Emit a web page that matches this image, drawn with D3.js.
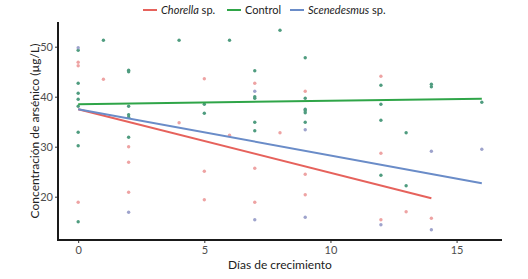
<!DOCTYPE html>
<html>
	<head>
		<meta charset="utf-8">
		<style>
			body, html { margin: 0; padding: 0; background: #fff; }
			text { font-family: Lato, "Liberation Sans", sans-serif; }
		</style>
	</head>
	<body>
		<svg id="svg" width="528" height="279"></svg>

		<script src="https://d3js.org/d3.v7.min.js"></script>
		<script>
			// Points: [day, arsenic µg/L]
			const chorella = [[0,46.9],[0,46.2],[0,18.9],[1,43.5],[2,30.0],[2,26.9],[2,20.9],[4,34.8],
				[5,43.6],[5,25.1],[5,19.4],[6,32.3],[7,42.7],[7,25.7],[7,18.9],[8,32.8],[9,41.1],
				[9,24.5],[9,20.4],[12,44.1],[12,28.7],[12,15.4],[13,17.0],[14,15.7]]
			const control = [[0,49.3],[0,42.7],[0,40.7],[0,39.5],[0,38.1],[0,32.9],[0,30.2],[0,15.0],
				[1,51.3],[2,45.3],[2,45.0],[2,38.1],[2,36.4],[2,35.9],[2,31.9],[4,51.3],[5,38.5],
				[5,36.7],[6,51.3],[7,45.2],[7,40.0],[7,39.7],[7,34.9],[7,33.2],[8,53.3],[9,47.8],
				[9,39.7],[9,37.5],[9,37.2],[9,36.8],[9,34.9],[12,42.3],[12,38.5],[12,35.3],[12,24.3],
				[13,32.8],[13,22.2],[14,42.5],[14,42.0],[16,38.9]]
			const scenedesmus = [[0,49.8],[2,16.9],[7,41.1],[7,15.4],[9,33.4],[9,15.9],[12,14.4],
				[14,29.1],[14,13.4],[16,29.5]]

			// fitted regression lines (start / end)
			const chorellaFit = [[0,37.5],[14,19.7]]
			const controlFit = [[0,38.5],[16,39.6]]
			const scenedesmusFit = [[0,37.5],[16,22.7]]

			const xTicks = [0, 5, 10, 15]
			const yTicks = [20, 30, 40, 50]

			const series = [
				{ name: 'Chorella', suffix: ' sp.', pts: chorella, fit: chorellaFit, line: '#e6625c', dot: '#eea3a3', italic: true },
				{ name: 'Control', suffix: '', pts: control, fit: controlFit, line: '#2fa548', dot: '#4f9c7f', italic: false },
				{ name: 'Scenedesmus', suffix: ' sp.', pts: scenedesmus, fit: scenedesmusFit, line: '#6a8cc8', dot: '#9ea3cc', italic: true }
			]

			const svg = d3.select('#svg')
			const pLeft = 58, pRight = 502, pTop = 22, pBottom = 240

			const x = d3.scaleLinear().domain([-0.8, 16.8]).range([pLeft, pRight])
			const y = d3.scaleLinear().domain([11.34, 54.94]).range([pBottom, pTop])

			// points first, lines on top
			series.forEach(s => {
				svg.append('g').selectAll('circle')
					.data(s.pts)
					.enter()
					.append('circle')
					.attr('cx', d => x(d[0]))
					.attr('cy', d => y(d[1]))
					.attr('r', 1.7)
					.attr('fill', s.dot)
			})

			const lineGen = d3.line().x(d => x(d[0])).y(d => y(d[1]))
			series.forEach(s => {
				svg.append('path')
					.attr('d', lineGen(s.fit))
					.attr('fill', 'none')
					.attr('stroke', s.line)
					.attr('stroke-width', 2)
			})

			// axes
			const xAxis = svg.append('g')
				.attr('transform', `translate(0,${pBottom})`)
				.call(d3.axisBottom(x).tickValues(xTicks).tickSize(3).tickPadding(3))
			const yAxis = svg.append('g')
				.attr('transform', `translate(${pLeft},0)`)
				.call(d3.axisLeft(y).tickValues(yTicks).tickSize(3).tickPadding(2))

			;[xAxis, yAxis].forEach(a => {
				a.select('.domain').remove()
				a.selectAll('line').attr('stroke', '#333')
				a.selectAll('text')
					.attr('fill', '#4d4d4d')
					.style('font-size', '11px')
					.style('font-family', 'Lato, sans-serif')
			})

			// thick axis lines
			svg.append('line').attr('x1', pLeft).attr('x2', pLeft).attr('y1', pTop).attr('y2', pBottom + 1)
				.attr('stroke', '#1a1a1a').attr('stroke-width', 2)
			svg.append('line').attr('x1', pLeft - 1).attr('x2', pRight).attr('y1', pBottom).attr('y2', pBottom)
				.attr('stroke', '#1a1a1a').attr('stroke-width', 2)

			// axis titles
			svg.append('text')
				.attr('x', (pLeft + pRight) / 2)
				.attr('y', 269)
				.attr('text-anchor', 'middle')
				.style('font-size', '12px')
				.attr('fill', '#222')
				.text('Días de crecimiento')

			svg.append('text')
				.attr('transform', `translate(39,${(pTop + pBottom) / 2}) rotate(-90)`)
				.attr('text-anchor', 'middle')
				.style('font-size', '12px')
				.attr('fill', '#222')
				.text('Concentración de arsénico (µg/L)')

			// legend
			const legendX = [143, 227, 290]
			const legend = svg.append('g')
			series.forEach((s, i) => {
				const g = legend.append('g').attr('transform', `translate(${legendX[i]},10)`)
				g.append('line').attr('x1', 0).attr('x2', 14).attr('y1', 0).attr('y2', 0)
					.attr('stroke', s.line).attr('stroke-width', 2)
				const t = g.append('text').attr('x', 18).attr('y', 4)
					.style('font-size', '11px').attr('fill', '#222')
				t.append('tspan').style('font-style', s.italic ? 'italic' : 'normal').text(s.name)
				if (s.suffix) t.append('tspan').text(s.suffix)
			})
		</script>
	</body>
</html>
